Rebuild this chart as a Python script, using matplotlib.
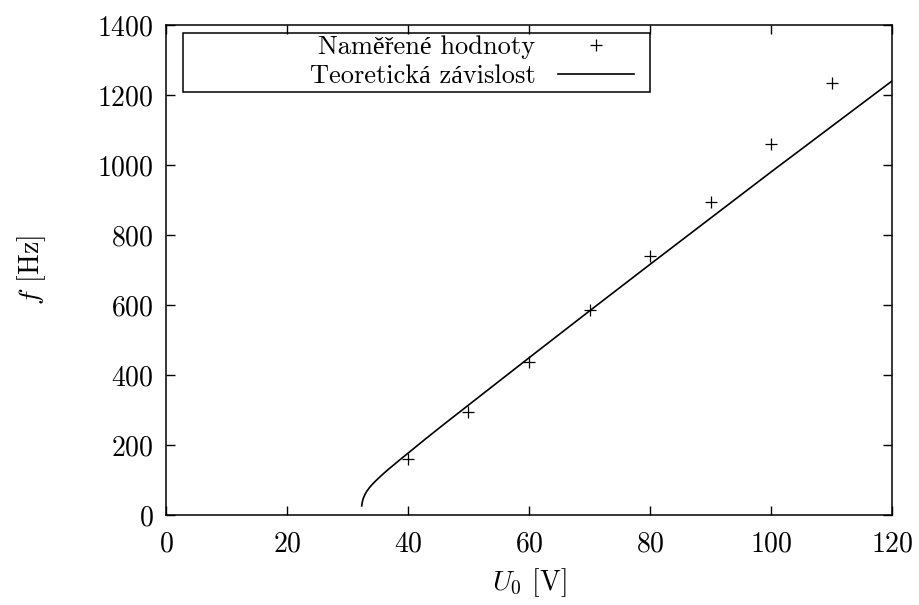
import numpy as np
import matplotlib
matplotlib.use("Agg")
import matplotlib.pyplot as plt
from matplotlib.patches import Rectangle

plt.rcParams["font.family"] = ["cmr10", "Liberation Serif"]
plt.rcParams["mathtext.fontset"] = "cm"
plt.rcParams["axes.formatter.use_mathtext"] = True
plt.rcParams["font.size"] = 20

# naměřené hodnoty
u_meas = [40, 50, 60, 70, 80, 90, 100, 110]
f_meas = [160, 295, 438, 585, 739, 893, 1061, 1233]

# teoretická závislost
u_theory = [32.35, 32.45, 32.6, 32.9, 33.2, 33.6, 34.0, 34.7, 35.4, 36.0,
            36.7, 37.5, 38.4, 40, 42.8, 46, 50, 60, 70, 80, 90, 100, 110, 120]
f_theory = [26, 37, 47, 59, 68, 77.5, 85.5, 98, 109.5, 119,
            129.5, 141, 154, 176.5, 216, 260, 314, 449, 583, 716, 848, 980, 1110, 1240]

x_ticks = [0, 20, 40, 60, 80, 100, 120]
y_ticks = [0, 200, 400, 600, 800, 1000, 1200, 1400]

fig = plt.figure(figsize=(9.2, 6.05), dpi=100)
ax = fig.add_axes([0.1804, 0.1488, 0.7892, 0.8099])

ax.plot(u_meas, f_meas, linestyle="none", marker="+", color="black",
        markersize=8, markeredgewidth=0.9, label="Naměřené hodnoty")
ax.plot(u_theory, f_theory, color="black", linewidth=1.2,
        label="Teoretická závislost")

ax.set_xlim(0, 120)
ax.set_ylim(0, 1400)
ax.set_xticks(x_ticks)
ax.set_yticks(y_ticks)
ax.tick_params(direction="in", length=6.5, width=1, top=True, right=True)
ax.tick_params(axis="x", pad=12)
ax.tick_params(axis="y", pad=9)
for s in ax.spines.values():
    s.set_linewidth(1.1)

ax.set_xlabel(r"$U_0$ [V]")
ax.set_ylabel(r"$f$ [Hz]")
ax.xaxis.set_label_coords(0.5, -0.105)
ax.yaxis.set_label_coords(-0.162, 0.5)

# rámeček legendy ve stylu gnuplotu
ax.add_patch(Rectangle((0.0234, 0.8633), 0.6433, 0.1204, transform=ax.transAxes,
                       fill=False, edgecolor="black", linewidth=1.1, zorder=5))
ax.legend(loc="upper right", bbox_to_anchor=(0.6488, 0.9837), frameon=False,
          markerfirst=False, handlelength=2.9, handletextpad=0.85,
          borderpad=0.1, labelspacing=0.2, borderaxespad=0, fontsize=19)

fig.savefig("out.png", dpi=100)
